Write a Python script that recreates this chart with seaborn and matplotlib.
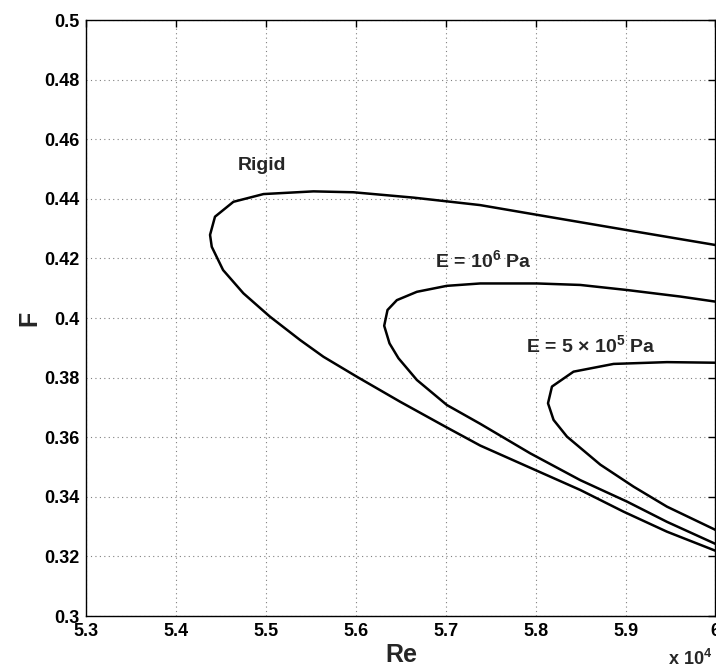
import numpy as np
import pandas as pd
import matplotlib
matplotlib.use("Agg")
import matplotlib.pyplot as plt
import seaborn as sns

# Re values in units of 1e4, traced upper branch -> nose -> lower branch
rigid_re = [6.0, 5.9015, 5.80, 5.738, 5.664, 5.597, 5.5526, 5.497, 5.4635, 5.443,
            5.4375, 5.4394, 5.452, 5.4746, 5.504, 5.5378, 5.5637, 5.6009, 5.6491,
            5.6996, 5.7382, 5.7994, 5.8495, 5.8978, 5.946, 6.0]
rigid_f = [0.4245, 0.4295, 0.4347, 0.4379, 0.4404, 0.4422, 0.4425, 0.4416, 0.4390, 0.4340,
           0.4279, 0.4239, 0.4161, 0.4083, 0.4005, 0.3926, 0.3870, 0.3803, 0.3719,
           0.3635, 0.3572, 0.3490, 0.3423, 0.3350, 0.3283, 0.3219]

e1e6_re = [6.0, 5.961, 5.9015, 5.8495, 5.8013, 5.7382, 5.701, 5.6677, 5.6454, 5.635,
           5.6313, 5.6372, 5.6472, 5.6677, 5.7011, 5.7382, 5.7938, 5.8495, 5.9015, 5.946, 6.0]
e1e6_f = [0.4055, 0.4072, 0.4094, 0.4111, 0.4116, 0.4116, 0.4108, 0.4088, 0.4060, 0.4027,
          0.3974, 0.3915, 0.3865, 0.3792, 0.3708, 0.3645, 0.3546, 0.3456, 0.3384, 0.3316, 0.3242]

e5e5_re = [6.0, 5.946, 5.8866, 5.842, 5.818, 5.8136, 5.8198, 5.8347, 5.8718, 5.9089, 5.946, 6.0]
e5e5_f = [0.3850, 0.3852, 0.3846, 0.3820, 0.3770, 0.3714, 0.3658, 0.3602, 0.3508, 0.3434, 0.3367, 0.3289]

x_ticks = [5.3, 5.4, 5.5, 5.6, 5.7, 5.8, 5.9, 6.0]
x_labels = ["5.3", "5.4", "5.5", "5.6", "5.7", "5.8", "5.9", "6"]
y_ticks = [0.30, 0.32, 0.34, 0.36, 0.38, 0.40, 0.42, 0.44, 0.46, 0.48, 0.50]
y_labels = ["0.3", "0.32", "0.34", "0.36", "0.38", "0.4", "0.42", "0.44", "0.46", "0.48", "0.5"]

sns.set_theme(style="white")
plt.rcParams["font.family"] = ["Liberation Sans", "DejaVu Sans"]
plt.rcParams["font.weight"] = "bold"
plt.rcParams["mathtext.fontset"] = "custom"
plt.rcParams["mathtext.rm"] = "Liberation Sans:bold"
plt.rcParams["mathtext.it"] = "Liberation Sans:bold"
plt.rcParams["mathtext.default"] = "rm"

fig = plt.figure(figsize=(7.16, 6.72), dpi=100)
ax = fig.add_axes([0.1208, 0.0833, 0.8785, 0.8869])

for re_vals, f_vals in [(rigid_re, rigid_f), (e1e6_re, e1e6_f), (e5e5_re, e5e5_f)]:
    df = pd.DataFrame({"Re": re_vals, "F": f_vals})
    sns.lineplot(data=df, x="Re", y="F", sort=False, estimator=None,
                 color="black", linewidth=1.8, ax=ax)

ax.set_xlim(5.3, 6.0)
ax.set_ylim(0.3, 0.5)
ax.set_xticks(x_ticks)
ax.set_xticklabels(x_labels)
ax.set_yticks(y_ticks)
ax.set_yticklabels(y_labels)
ax.tick_params(direction="in", length=5, width=1, top=True, right=True,
               labelsize=13, pad=5, colors="black")
for lab in ax.get_xticklabels() + ax.get_yticklabels():
    lab.set_fontweight("bold")
ax.grid(True, linestyle=(0, (1, 3)), color="0.5", linewidth=0.8)
for s in ax.spines.values():
    s.set_color("black")
    s.set_linewidth(1.0)

ax.set_xlabel("Re", fontsize=18, fontweight="bold", labelpad=2)
ax.set_ylabel("F", fontsize=18, fontweight="bold", labelpad=2)

ax.text(5.4678, 0.4513, "Rigid", fontsize=14, fontweight="bold", va="center")
ax.text(5.6881, 0.4195, "E = 10$^6$ Pa", fontsize=14, fontweight="bold", va="center")
ax.text(5.7894, 0.3909, "E = 5 \u00d7 10$^5$ Pa", fontsize=14, fontweight="bold", va="center")
fig.text(0.933, 0.004, "x 10$^4$", fontsize=13, fontweight="bold", ha="left", va="bottom")

fig.savefig("out.png", dpi=100)
